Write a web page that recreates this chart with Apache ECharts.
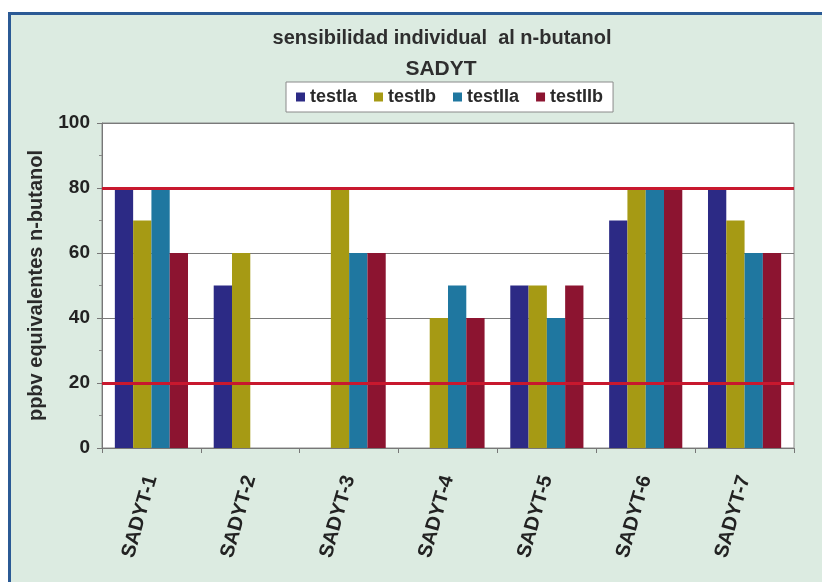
<!DOCTYPE html>
<html>
<head>
<meta charset="utf-8">
<script src="https://cdn.jsdelivr.net/npm/echarts@6/dist/echarts.min.js"></script>
<style>
  html, body { margin: 0; padding: 0; background: #ffffff; }
  #frame { position: absolute; left: 8px; top: 12px; width: 814px; height: 570px;
           background: #dcebe1; border-left: 3px solid #2b5a95; border-top: 3px solid #2b5a95; box-sizing: border-box; }
  #chart { position: absolute; left: 0; top: 0; width: 822px; height: 582px; }
</style>
</head>
<body>
<div id="frame"></div>
<div id="chart"></div>
<script>
const categories = ['SADYT-1', 'SADYT-2', 'SADYT-3', 'SADYT-4', 'SADYT-5', 'SADYT-6', 'SADYT-7'];
const seriesNames = ['testIa', 'testIb', 'testIIa', 'testIIb'];
const testIa  = [80, 50, null, null, 50, 70, 80];
const testIb  = [70, 60, 80, 40, 50, 80, 70];
const testIIa = [80, null, 60, 50, 40, 80, 60];
const testIIb = [60, null, 60, 40, 50, 80, 60];
const yTicks = [0, 20, 40, 60, 80, 100];
const limitLines = [80, 20];
const colors = ['#2c2a85', '#a69a14', '#1f77a0', '#8c1430'];

const font = "'Liberation Sans', Arial, sans-serif";
const chart = echarts.init(document.getElementById('chart'), null, { renderer: 'canvas' });
const allData = [testIa, testIb, testIIa, testIIb];

const series = allData.map((d, i) => ({
  name: seriesNames[i],
  type: 'bar',
  data: d,
  barGap: '0%',
  barCategoryGap: '26%',
  itemStyle: { color: colors[i] },
  z: 2
}));
series[0].markLine = {
  silent: true,
  symbol: 'none',
  label: { show: false },
  lineStyle: { color: '#c8182e', width: 3, type: 'solid' },
  data: limitLines.map(v => ({ yAxis: v })),
  z: 5
};

chart.setOption({
  backgroundColor: 'transparent',
  textStyle: { fontFamily: font },
  title: [
    { text: 'sensibilidad individual  al n-butanol', left: 442, top: 28, textAlign: 'center', padding: 0,
      textStyle: { fontSize: 20, fontWeight: 'bold', color: '#2e2e2e', fontFamily: font } },
    { text: 'SADYT', left: 441, top: 59, textAlign: 'center', padding: 0,
      textStyle: { fontSize: 21, fontWeight: 'bold', color: '#2e2e2e', fontFamily: font } }
  ],
  legend: {
    data: seriesNames,
    left: 286, top: 82,
    backgroundColor: '#ffffff',
    borderColor: '#8a8a8a', borderWidth: 1,
    padding: [6, 10],
    itemWidth: 9, itemHeight: 9, itemGap: 17,
    icon: 'rect',
    textStyle: { fontSize: 18, fontWeight: 'bold', color: '#2a2a2a', fontFamily: font }
  },
  grid: { left: 102, right: 28, top: 123, bottom: 134, show: true,
          backgroundColor: '#ffffff', borderColor: '#8a8a8a', borderWidth: 1 },
  xAxis: {
    type: 'category',
    data: categories,
    axisLine: { lineStyle: { color: '#777', width: 1 } },
    axisTick: { show: true, length: 5, lineStyle: { color: '#777' } },
    axisLabel: { interval: 0, rotate: 74, margin: 28, fontSize: 20, fontWeight: 'bold', color: '#222', fontFamily: font }
  },
  yAxis: {
    type: 'value',
    min: yTicks[0], max: yTicks[yTicks.length - 1], interval: 20,
    name: 'ppbv equivalentes n-butanol',
    nameLocation: 'middle',
    nameRotate: 90,
    nameGap: 56,
    nameTextStyle: { fontSize: 20, fontWeight: 'bold', color: '#2a2a2a', fontFamily: font },
    axisLine: { show: true, lineStyle: { color: '#777', width: 1 } },
    axisTick: { show: true, length: 5, lineStyle: { color: '#777' } },
    minorTick: { show: true, splitNumber: 2, length: 3, lineStyle: { color: '#888' } },
    splitLine: { show: true, lineStyle: { color: '#7a7a7a', width: 1 } },
    axisLabel: { margin: 12, fontSize: 19, fontWeight: 'bold', color: '#222', fontFamily: font }
  },
  series: series
});
</script>
</body>
</html>
